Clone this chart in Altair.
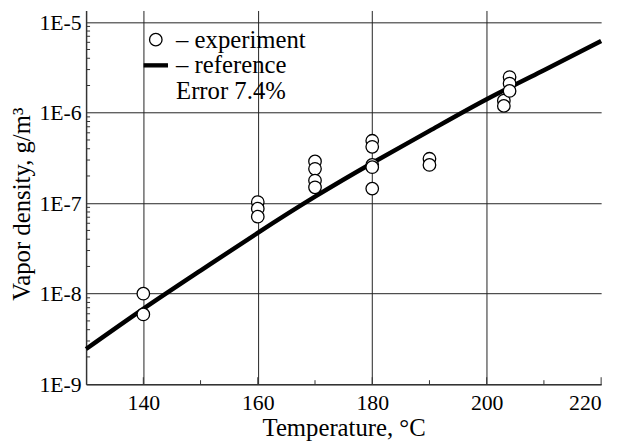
import altair as alt
import pandas as pd

# ---- data ----
exp_T = [140, 140,
         160, 160, 160,
         170, 170, 170, 170,
         180, 180, 180, 180, 180,
         190, 190,
         203, 203,
         204, 204, 204]
exp_rho = [1.0e-8, 5.9e-9,
           1.03e-7, 8.7e-8, 7.1e-8,
           2.9e-7, 2.4e-7, 1.78e-7, 1.5e-7,
           4.9e-7, 4.2e-7, 2.65e-7, 2.5e-7, 1.45e-7,
           3.1e-7, 2.65e-7,
           1.36e-6, 1.19e-6,
           2.48e-6, 2.1e-6, 1.74e-6]

ref_T = [130, 140, 150, 160, 170, 180, 190, 200, 210, 220]
ref_rho = [2.45e-9, 6.8e-9, 1.8e-8, 4.7e-8, 1.18e-7, 2.78e-7, 6.3e-7, 1.41e-6, 2.95e-6, 6.2e-6]

x_ticks = [140, 160, 180, 200, 220]
x_minor = [150, 170, 190, 210]
y_ticks = [1e-9, 1e-8, 1e-7, 1e-6, 1e-5]
minor_mult = [2, 3, 4, 5, 6, 7, 8, 9]
decades = [1e-9, 1e-8, 1e-7, 1e-6, 1e-5]
y_max = 1.35e-5

legend_labels = ["\u2013 experiment", "\u2013 reference", "Error 7.4%"]

FONT = "Liberation Serif"
W, H = 521, 378

exp_df = pd.DataFrame({"T": exp_T, "rho": exp_rho, "series": legend_labels[0]})
ref_df = pd.DataFrame({"T": ref_T, "rho": ref_rho})
yminor_df = pd.DataFrame({"rho": [m * d for d in decades for m in minor_mult if m * d < y_max]})
xmaj_df = pd.DataFrame({"T": x_ticks})
xmin_df = pd.DataFrame({"T": x_minor})

xscale = alt.Scale(domain=[130, 220], nice=False, zero=False)
yscale = alt.Scale(type="log", domain=[1e-9, y_max], nice=False)

xaxis = alt.Axis(
    values=x_ticks, format="d", grid=True, gridColor="#222", gridWidth=1,
    gridOpacity={"condition": {"test": "datum.value >= 220", "value": 0}, "value": 1},
    ticks=False, tickSize=0, labelPadding=26, labelBaseline="alphabetic",
    labelFont=FONT, labelFontSize=22, labelColor="black",
    domainColor="#333", domainWidth=1.5,
    title="Temperature, \u00b0C", titleFont=FONT, titleFontSize=25, titleFontWeight="normal",
    titleColor="black", titleBaseline="alphabetic", titleY=51.5)
yaxis = alt.Axis(
    values=y_ticks, labelExpr="'1E' + round(log(datum.value) / LN10)",
    grid=True, gridColor="#222", gridWidth=1,
    ticks=False, tickSize=0, labelPadding=5,
    labelFont=FONT, labelFontSize=22, labelColor="black",
    domainColor="#333", domainWidth=1.5,
    title="Vapor density, g/m\u00b3", titleFont=FONT, titleFontSize=25, titleFontWeight="normal",
    titleColor="black", titleBaseline="alphabetic", titleAngle=-90,
    titleX=-57, titleY=195.5)

X = alt.X("T:Q", scale=xscale, axis=xaxis)
Y = alt.Y("rho:Q", scale=yscale, axis=yaxis)

line = alt.Chart(ref_df).mark_line(color="black", strokeWidth=4.5, interpolate="natural").encode(x=X, y=Y)

leg = dict(title=None, orient="none", legendX=58, legendY=17, padding=0,
           labelFont=FONT, labelFontSize=25, labelColor="black", labelOffset=8,
           symbolSize=160, symbolStrokeWidth=1.3, symbolStrokeColor="black",
           symbolOpacity=1, rowPadding=0, labelLimit=300)

points = alt.Chart(exp_df).mark_point(strokeWidth=1.3, size=160, opacity=1).encode(
    x=X, y=Y,
    shape=alt.Shape("series:N", scale=alt.Scale(
        domain=legend_labels, range=["circle", "M-1.85,-0.25H1.85V0.25H-1.85Z", "M0,0"]),
        legend=alt.Legend(**leg)),
    fill=alt.Fill("series:N", scale=alt.Scale(domain=legend_labels, range=["white", "black", "white"]),
                  legend=alt.Legend(**leg)),
    stroke=alt.Stroke("series:N", scale=alt.Scale(domain=legend_labels, range=["black", "black", "white"]),
                      legend=alt.Legend(**leg)),
)

yminor = alt.Chart(yminor_df).mark_rule(color="#333", strokeWidth=1).encode(
    y=Y, x=alt.value(0), x2=alt.value(4),
)
xmajor = alt.Chart(xmaj_df).mark_rule(color="#333", strokeWidth=1).encode(
    x=X, y=alt.value(H), y2=alt.value(H - 7),
)
xminor = alt.Chart(xmin_df).mark_rule(color="#333", strokeWidth=1).encode(
    x=X, y=alt.value(H), y2=alt.value(H - 4),
)

chart = alt.layer(line, yminor, xmajor, xminor, points).properties(
    width=W, height=H,
    autosize=alt.AutoSizeParams(type="none"),
    padding={"left": 79, "top": 0, "right": 12, "bottom": 55},
    background="white",
).configure_view(stroke=None)

chart.save("out.html", embed_options={"renderer": "svg", "actions": False})
